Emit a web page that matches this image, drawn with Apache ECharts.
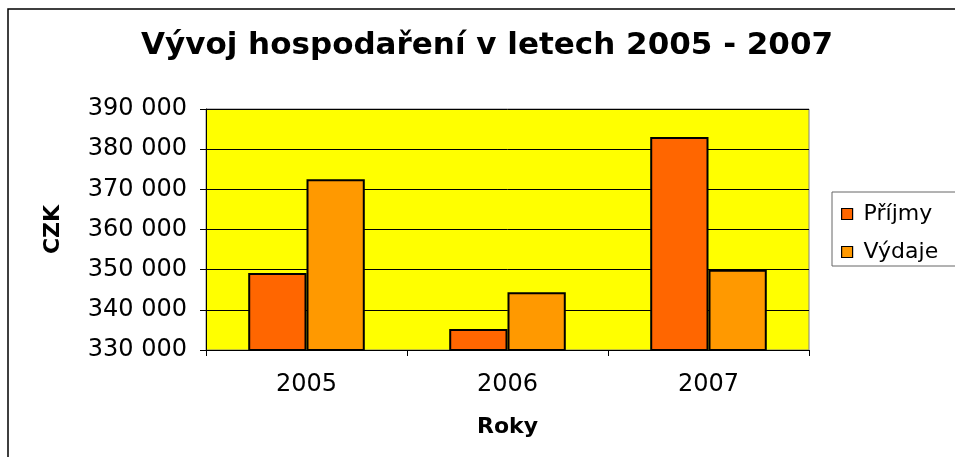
<!DOCTYPE html>
<html>
<head>
<meta charset="utf-8">
<script src="https://cdn.jsdelivr.net/npm/echarts@6/dist/echarts.min.js"></script>
<style>
html,body{margin:0;padding:0;background:#fff;}
#chart{width:955px;height:457px;}
</style>
</head>
<body>
<div id="chart"></div>
<script>
const categories = ['2005', '2006', '2007'];
const prijmy = [349200, 335200, 383000];
const vydaje = [372500, 344400, 350000];
const seriesNames = ['Příjmy', 'Výdaje'];
const titleText = 'Vývoj hospodaření v letech 2005 - 2007';
const yName = 'CZK';
const xName = 'Roky';

const FONT = 'DejaVu Sans';
const chart = echarts.init(document.getElementById('chart'), null, {renderer: 'canvas'});

function fmt(v) {
  return String(v).replace(/\B(?=(\d{3})+(?!\d))/g, ' ');
}

chart.setOption({
  backgroundColor: '#ffffff',
  animation: false,
  graphic: [{
    type: 'rect',
    shape: {x: 8, y: 9, width: 1000, height: 500},
    style: {fill: 'none', stroke: '#000', lineWidth: 1.5},
    silent: true,
    z: -1
  }],
  title: {
    text: titleText,
    left: 141,
    top: 30,
    padding: 0,
    textStyle: {fontFamily: FONT, fontSize: 31, fontWeight: 'bold', color: '#000'}
  },
  legend: {
    orient: 'vertical',
    left: 832,
    top: 192,
    padding: [9, 30, 1, 9],
    itemGap: 12,
    itemWidth: 11,
    itemHeight: 11,
    icon: 'rect',
    backgroundColor: '#fff',
    borderColor: '#666',
    borderWidth: 1,
    borderRadius: 0,
    itemStyle: {borderColor: '#000', borderWidth: 1.2},
    textStyle: {fontFamily: FONT, fontSize: 22, color: '#000', lineHeight: 26, padding: [0, 0, 0, 6]},
    data: seriesNames
  },
  grid: {
    left: 206,
    right: 146,
    top: 109,
    bottom: 107,
    show: true,
    backgroundColor: '#FFFF00',
    borderColor: '#808080',
    borderWidth: 1
  },
  xAxis: {
    type: 'category',
    data: categories,
    name: xName,
    nameLocation: 'middle',
    nameGap: 66,
    nameTextStyle: {fontFamily: FONT, fontSize: 22, fontWeight: 'bold', color: '#000'},
    axisLine: {lineStyle: {color: '#000', width: 1}},
    axisTick: {show: true, length: 6, lineStyle: {color: '#000'}},
    axisLabel: {fontFamily: FONT, fontSize: 24, color: '#000', margin: 23}
  },
  yAxis: {
    type: 'value',
    min: 330000,
    max: 390000,
    interval: 10000,
    name: yName,
    nameLocation: 'middle',
    nameRotate: 90,
    nameGap: 142,
    nameTextStyle: {fontFamily: FONT, fontSize: 22, fontWeight: 'bold', color: '#000'},
    axisLine: {show: true, lineStyle: {color: '#000', width: 1}},
    axisTick: {show: true, length: 6, lineStyle: {color: '#000'}},
    splitLine: {show: true, lineStyle: {color: '#000', width: 1}},
    axisLabel: {fontFamily: FONT, fontSize: 24, color: '#000', margin: 19, padding: [5, 0, 0, 0], formatter: fmt}
  },
  series: [
    {
      name: seriesNames[0],
      type: 'bar',
      data: prijmy,
      barGap: '0%',
      barCategoryGap: '42%',
      itemStyle: {color: '#FF6600', borderColor: '#000', borderWidth: 2}
    },
    {
      name: seriesNames[1],
      type: 'bar',
      data: vydaje,
      barGap: '0%',
      barCategoryGap: '42%',
      itemStyle: {color: '#FF9900', borderColor: '#000', borderWidth: 2}
    }
  ]
});
</script>
</body>
</html>
